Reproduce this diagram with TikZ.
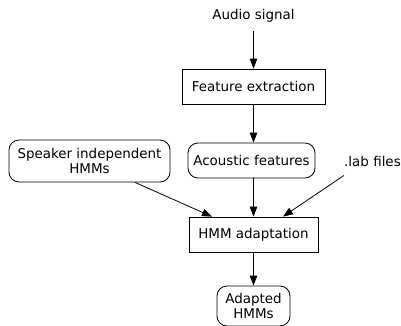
\documentclass[tikz,border=0pt]{standalone}
\usepackage{fontspec}
\setmainfont{DejaVu Sans}
\usetikzlibrary{arrows.meta,calc}
\begin{document}
\begin{tikzpicture}[x=1bp,y=-1bp,
  every node/.style={font=\fontsize{13.5}{15.5}\selectfont, inner sep=0pt, align=center},
  sqbox/.style={draw, line width=0.8bp, minimum height=35bp},
  rbox/.style={draw, line width=0.8bp, rounded corners=10bp},
  flow/.style={draw, line width=0.8bp, -{Triangle[length=10bp,width=7.5bp]}}]
  \useasboundingbox (0,0) rectangle (401,326);
  % inputs and processing steps
  \node (audio) at (253.5,16) {Audio signal};
  \node[sqbox, minimum width=143bp] (fe) at (253.5,86.5) {Feature extraction};
  \node[rbox, minimum width=127bp, minimum height=35bp] (af) at (251.5,160.5) {Acoustic features};
  \node[rbox, minimum width=161bp, minimum height=42bp] (si) at (89.5,161) {Speaker independent\\HMMs};
  \node (lab) at (372.5,161) {.lab files};
  \node[sqbox, minimum width=129bp] (hmm) at (253.5,234.5) {HMM adaptation};
  \node[rbox, minimum width=73bp, minimum height=40bp] (ad) at (253.5,306) {Adapted\\HMMs};
  % attachment points of the connectors
  \coordinate (audio0) at ($(audio.south)+(0,8)$);
  \coordinate (af0) at (af.north -| fe.south);
  \coordinate (af1) at (af.south -| hmm.north);
  \coordinate (si0) at ($(si.south)+(45.5,0)$);
  \coordinate (lab0) at ($(lab.south)+(-28.5,9)$);
  \coordinate (hmmL) at ($(hmm.north)+(-41.5,0)$);
  \coordinate (hmmR) at ($(hmm.north)+(29.5,0)$);
  % connectors
  \draw[flow] (audio0) -- (fe.north);
  \draw[flow] (fe.south) -- (af0);
  \draw[flow] (af1) -- (hmm.north);
  \draw[flow] (si0) -- (hmmL);
  \draw[flow] (lab0) -- (hmmR);
  \draw[flow] (hmm) -- (ad);
\end{tikzpicture}
\end{document}
